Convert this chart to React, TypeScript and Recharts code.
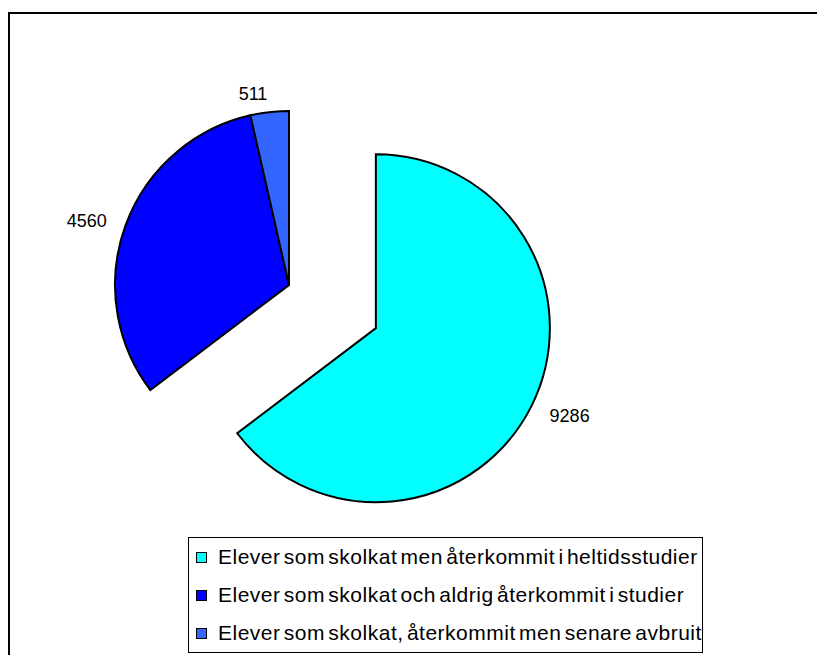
import React from 'react';
import { PieChart, Pie, Cell, Legend } from 'recharts';

const categories = [
  'Elever som skolkat men återkommit i heltidsstudier',
  'Elever som skolkat och aldrig återkommit i studier',
  'Elever som skolkat, återkommit men senare avbruit',
];
const values = [9286, 4560, 511];
const colors = ['#00FFFF', '#0000FF', '#3366FF'];
const exploded = [true, false, false];

const data = categories.map((name, i) => ({ name, value: values[i] }));

const FONT = '"Liberation Sans", Arial, sans-serif';
const CX = 281;
const CY = 277;
const RADIUS = 174;
const EXPLODE = 97;

// shift the exploded slice along its bisector
const total = values.reduce((a, b) => a + b, 0);
const before = values.slice(0, exploded.indexOf(true)).reduce((a, b) => a + b, 0);
const midDeg = 90 - (360 * (before + values[exploded.indexOf(true)] / 2)) / total;
const CX2 = CX + EXPLODE * Math.cos((midDeg * Math.PI) / 180);
const CY2 = CY - EXPLODE * Math.sin((midDeg * Math.PI) / 180);

const makeLabel = (wantExploded: boolean) => (props: any) => {
  const { cx, cy, midAngle, outerRadius, index } = props;
  if (exploded[index] !== wantExploded) return null;
  const rad = (midAngle * Math.PI) / 180;
  const r = outerRadius + 20;
  const x = cx + r * Math.cos(rad);
  const y = cy - r * Math.sin(rad);
  const cos = Math.cos(rad);
  return (
    <text
      x={x}
      y={y + 2}
      fill="#000"
      fontSize={18}
      fontFamily={FONT}
      textAnchor={cos > 0.05 ? 'start' : cos < -0.05 ? 'end' : 'middle'}
      dominantBaseline="central"
    >
      {values[index]}
    </text>
  );
};

const renderLegend = () => (
  <div
    style={{
      border: '1px solid #000',
      boxSizing: 'border-box',
      height: 116,
      background: '#fff',
      fontFamily: FONT,
      fontSize: 21,
      color: '#000',
    }}
  >
    {categories.map((c, i) => (
      <div key={c} style={{ height: 38, display: 'flex', alignItems: 'center', paddingLeft: 7 }}>
        <span
          style={{
            width: 9,
            height: 9,
            border: '1px solid #000',
            background: colors[i],
            marginRight: 11,
            flexShrink: 0,
          }}
        />
        <span style={{ whiteSpace: 'nowrap', wordSpacing: -3, letterSpacing: 0.5 }}>{c}</span>
      </div>
    ))}
  </div>
);

export default function App() {
  return (
    <div style={{ position: 'relative', width: 817, height: 647, overflow: 'hidden' }}>
      <div
        style={{
          position: 'absolute',
          left: 0,
          top: 4,
          width: 1000,
          height: 1000,
          border: '2px solid #000',
        }}
      />
      <div style={{ position: 'absolute', left: 0, top: 0 }}>
        <PieChart width={817} height={647} margin={{ top: 0, right: 0, bottom: 0, left: 0 }}>
          <Pie
            data={data}
            dataKey="value"
            nameKey="name"
            cx={CX}
            cy={CY}
            outerRadius={RADIUS}
            startAngle={90}
            endAngle={-270}
            stroke="#000"
            strokeWidth={2}
            label={makeLabel(false)}
            labelLine={false}
            isAnimationActive={false}
          >
            {data.map((d, i) => (
              <Cell
                key={d.name}
                fill={exploded[i] ? 'none' : colors[i]}
                stroke={exploded[i] ? 'none' : '#000'}
              />
            ))}
          </Pie>
          <Pie
            data={data}
            dataKey="value"
            nameKey="name"
            cx={CX2}
            cy={CY2}
            outerRadius={RADIUS}
            startAngle={90}
            endAngle={-270}
            stroke="#000"
            strokeWidth={2}
            label={makeLabel(true)}
            labelLine={false}
            legendType="none"
            isAnimationActive={false}
          >
            {data.map((d, i) => (
              <Cell
                key={d.name}
                fill={exploded[i] ? colors[i] : 'none'}
                stroke={exploded[i] ? '#000' : 'none'}
              />
            ))}
          </Pie>
          <Legend
            content={renderLegend}
            wrapperStyle={{ left: 180, top: 529, bottom: 'auto', width: 515 }}
          />
        </PieChart>
      </div>
    </div>
  );
}
